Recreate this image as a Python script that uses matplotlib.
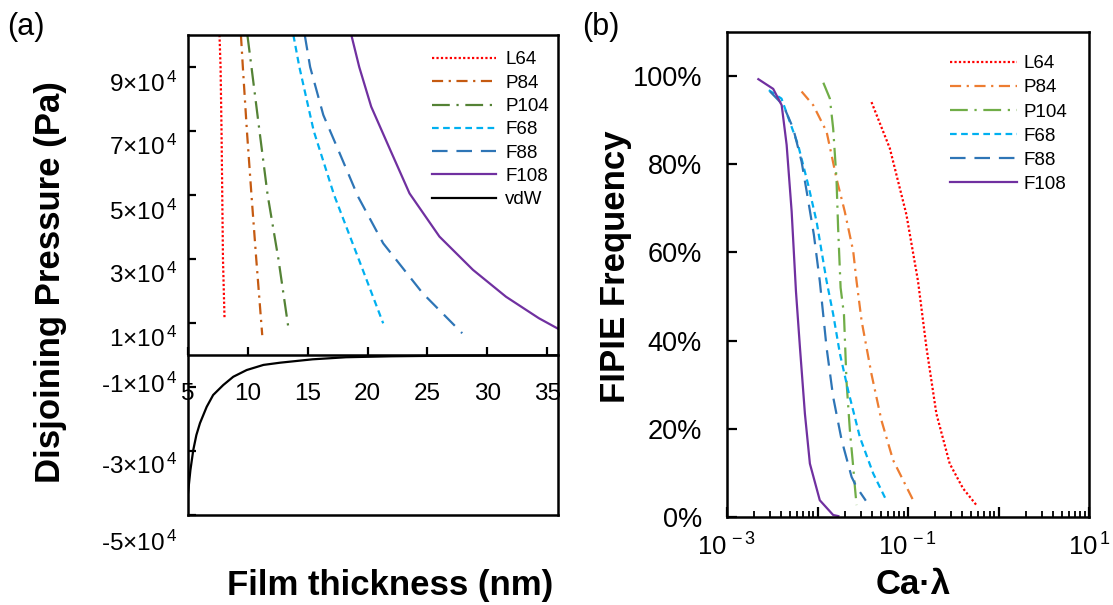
import numpy as np
import matplotlib
matplotlib.use("Agg")
import matplotlib.pyplot as plt
from matplotlib.ticker import PercentFormatter, FixedLocator, LogLocator, FuncFormatter
import matplotlib.transforms as mtransforms

plt.rcParams["font.family"] = ["Liberation Sans", "DejaVu Sans"]
plt.rcParams["mathtext.fontset"] = "custom"
plt.rcParams["mathtext.rm"] = "Liberation Sans"
plt.rcParams["mathtext.it"] = "Liberation Sans"
plt.rcParams["axes.unicode_minus"] = False

# ---- (a) disjoining pressure vs film thickness (nm, Pa) ----
l64_h = [7.63, 7.72, 7.80, 7.86, 7.92, 8.05]
l64_p = [1.0e5, 9.0e4, 7.0e4, 5.0e4, 3.0e4, 1.15e4]
p84_h = [9.42, 9.58, 9.92, 10.3, 10.7, 11.2]
p84_p = [1.0e5, 9.0e4, 7.0e4, 5.0e4, 3.0e4, 6.2e3]
p104_h = [9.96, 10.3, 10.97, 11.65, 12.55, 13.4]
p104_p = [1.0e5, 9.0e4, 7.0e4, 5.0e4, 3.0e4, 8.1e3]
f68_h = [13.8, 14.3, 15.5, 17.2, 19.25, 21.3]
f68_p = [1.0e5, 9.0e4, 7.0e4, 5.0e4, 3.0e4, 9.9e3]
f88_h = [14.75, 15.2, 16.3, 17.67, 19.2, 21.3, 24.6, 27.9]
f88_p = [1.0e5, 9.0e4, 7.5e4, 6.3e4, 4.95e4, 3.49e4, 1.93e4, 6.8e3]
f108_h = [18.64, 19.3, 20.3, 21.9, 23.5, 26.0, 28.8, 31.56, 34.3, 35.86]
f108_p = [1.0e5, 9.0e4, 7.76e4, 6.4e4, 5.05e4, 3.7e4, 2.66e4, 1.82e4, 1.15e4, 8.3e3]
vdw_h = [5.0, 5.2, 5.44, 5.7, 6.0, 6.56, 7.1, 7.94, 8.78, 9.9, 11.3, 12.7, 15.4, 18.2, 22.0, 27.0, 35.9]
vdw_p = [-4.32e4, -3.6e4, -2.97e4, -2.5e4, -2.13e4, -1.62e4, -1.25e4, -9.4e3, -6.8e3,
         -4.7e3, -3.1e3, -2.4e3, -1.35e3, -7.0e2, -4.0e2, -2.0e2, -1.0e2]
y_ticks_a = [9e4, 7e4, 5e4, 3e4, 1e4, -1e4, -3e4, -5e4]
y_labels_a = ["9", "7", "5", "3", "1", "-1", "-3", "-5"]
x_ticks_a = [5, 10, 15, 20, 25, 30, 35]

# ---- (b) FIPIE frequency vs Ca*lambda ----
b_l64_x = [3.95e-2, 6.3e-2, 9.6e-2, 0.129, 0.16, 0.206, 0.289, 0.405, 0.57]
b_l64_y = [94.1, 83.6, 68.6, 53.5, 38.4, 23.4, 12.1, 6.5, 2.7]
b_p84_x = [6.67e-3, 8.97e-3, 1.26e-2, 1.43e-2, 1.62e-2, 2.0e-2, 2.48e-2, 2.7e-2, 3.07e-2,
           3.95e-2, 5.09e-2, 6.84e-2, 0.114]
b_p84_y = [96.5, 93.4, 87.4, 82.1, 76.8, 69.3, 60.3, 53.5, 44.5, 32.4, 21.9, 12.9, 3.8]
b_p104_x = [1.16e-2, 1.37e-2, 1.49e-2, 1.62e-2, 1.69e-2, 1.8e-2, 1.96e-2, 2.09e-2, 2.28e-2,
            2.48e-2, 2.59e-2, 2.7e-2]
b_p104_y = [98.5, 94.9, 88.1, 76.8, 65.5, 52.0, 46.0, 30.9, 19.6, 11.4, 6.8, 2.7]
b_f68_x = [2.9e-3, 4.0e-3, 6.1e-3, 7.9e-3, 9.77e-3, 1.26e-2, 1.49e-2, 1.77e-2, 2.18e-2,
           2.94e-2, 4.12e-2, 5.69e-2]
b_f68_y = [96.8, 94.9, 84.4, 75.3, 67.0, 53.5, 46.0, 37.0, 28.7, 18.1, 9.9, 4.0]
b_f88_x = [2.99e-3, 4.18e-3, 5.4e-3, 6.67e-3, 7.7e-3, 9.12e-3, 1.06e-2, 1.26e-2, 1.49e-2,
           1.85e-2, 2.38e-2, 2.7e-2, 3.42e-2]
b_f88_y = [96.5, 93.4, 88.1, 80.6, 73.1, 64.0, 53.5, 38.4, 27.2, 17.4, 9.1, 6.8, 3.7]
b_f108_x = [2.22e-3, 3.24e-3, 4.02e-3, 4.56e-3, 5.18e-3, 5.78e-3, 6.4e-3, 7.26e-3, 8.24e-3,
            1.06e-2, 1.49e-2, 1.7e-2]
b_f108_y = [99.3, 97.1, 93.4, 84.4, 69.3, 51.2, 38.4, 23.4, 12.1, 3.8, 0.45, 0.2]

# styles
DOT = (0, (1, 1))
DASHDOT = (0, (5, 2.5, 1, 2.5))
LONGDASHDOT = (0, (8, 3, 1, 3))
SHORTDASH = (0, (3, 2))
LONGDASH = (0, (7, 4))
LW = 1.6

W, H = 1113, 605
fig = plt.figure(figsize=(W / 100, H / 100), dpi=100)


def px_axes(l, t, r, b):
    return fig.add_axes([l / W, 1 - b / H, (r - l) / W, (b - t) / H])


# ================= panel (a) =================
ax1 = px_axes(188, 35, 558, 515)
ax1.plot(l64_h, l64_p, color="#FF0000", ls=DOT, lw=LW, label="L64")
ax1.plot(p84_h, p84_p, color="#C55A11", ls=DASHDOT, lw=LW, label="P84")
ax1.plot(p104_h, p104_p, color="#548235", ls=LONGDASHDOT, lw=LW, label="P104")
ax1.plot(f68_h, f68_p, color="#00B0F0", ls=SHORTDASH, lw=LW, label="F68")
ax1.plot(f88_h, f88_p, color="#2E75B6", ls=LONGDASH, lw=LW, label="F88")
ax1.plot(f108_h, f108_p, color="#7030A0", ls="-", lw=LW, label="F108")
ax1.plot(vdw_h, vdw_p, color="black", ls="-", lw=LW, label="vdW")

ax1.set_xlim(5, 35.9)
ax1.set_ylim(-5e4, 1e5)
ax1.spines["bottom"].set_position(("data", 0))
for s in ax1.spines.values():
    s.set_linewidth(1.8)
# frame line at the bottom of the box
ax1.plot([0, 1], [0, 0], transform=ax1.transAxes, color="black", lw=1.8, clip_on=False)

ax1.set_xticks(x_ticks_a)
ax1.set_yticks(y_ticks_a)
ax1.set_yticklabels(["%s\u00d710$^{\\,4}$" % s for s in y_labels_a])
ax1.tick_params(axis="both", direction="in", length=6, width=1.6, labelsize=17.5)
ax1.tick_params(axis="x", pad=20)
ax1.tick_params(axis="y", pad=8)
# the labels sit a little below their ticks in the original
shift_px = [14.5, 14, 14.5, 13.5, 14, -4, 13, 26]
for lab, d in zip(ax1.get_yticklabels(), shift_px):
    off = mtransforms.ScaledTranslation(0, -d / 100, fig.dpi_scale_trans)
    lab.set_transform(lab.get_transform() + off)

ax1.legend(loc="upper left", bbox_to_anchor=(0.66, 0.966), frameon=False, fontsize=13.5,
           handlelength=3.4, handletextpad=0.5, labelspacing=0.33, borderpad=0,
           borderaxespad=0)

# ================= panel (b) =================
ax2 = px_axes(727, 32, 1089, 517)
ax2.plot(b_l64_x, np.array(b_l64_y) / 100, color="#FF0000", ls=DOT, lw=LW, label="L64")
ax2.plot(b_p84_x, np.array(b_p84_y) / 100, color="#ED7D31", ls=DASHDOT, lw=LW, label="P84")
ax2.plot(b_p104_x, np.array(b_p104_y) / 100, color="#70AD47", ls=LONGDASHDOT, lw=LW, label="P104")
ax2.plot(b_f68_x, np.array(b_f68_y) / 100, color="#00B0F0", ls=SHORTDASH, lw=LW, label="F68")
ax2.plot(b_f88_x, np.array(b_f88_y) / 100, color="#2E75B6", ls=LONGDASH, lw=LW, label="F88")
ax2.plot(b_f108_x, np.array(b_f108_y) / 100, color="#7030A0", ls="-", lw=LW, label="F108")

ax2.set_xscale("log")
ax2.set_xlim(1e-3, 1e1)
ax2.set_ylim(0, 1.1)
for s in ax2.spines.values():
    s.set_linewidth(1.8)
ax2.set_yticks([0, 0.2, 0.4, 0.6, 0.8, 1.0])
ax2.yaxis.set_major_formatter(PercentFormatter(1.0, decimals=0))
ax2.xaxis.set_major_locator(FixedLocator([1e-3, 1e-2, 1e-1, 1, 10]))
ax2.xaxis.set_minor_locator(LogLocator(base=10, subs=np.arange(2, 10), numticks=20))
ax2.xaxis.set_minor_formatter(FuncFormatter(lambda v, p: ""))


def fmt_b(v, pos):
    e = int(round(np.log10(v)))
    return "10$^{\\,%d}$" % e if e % 2 else ""


ax2.xaxis.set_major_formatter(FuncFormatter(fmt_b))
ax2.tick_params(axis="both", which="major", direction="in", length=7, width=1.6)
ax2.tick_params(axis="x", which="minor", direction="in", length=4.5, width=1.3)
ax2.tick_params(axis="x", which="major", labelsize=18.5, pad=12)
ax2.tick_params(axis="y", labelsize=19.5, pad=18)

ax2.legend(loc="upper left", bbox_to_anchor=(0.615, 0.952), frameon=False, fontsize=13.5,
           handlelength=3.6, handletextpad=0.35, labelspacing=0.37, borderpad=0,
           borderaxespad=0)

# ---- labels ----
fig.text(51 / W, 1 - 282 / H, "Disjoining Pressure (Pa)", rotation=90, ha="center",
         va="center", fontsize=25, fontweight="bold")
fig.text(390 / W, 1 - 585 / H, "Film thickness (nm)", ha="center", va="center",
         fontsize=25, fontweight="bold")
fig.text(615 / W, 1 - 267 / H, "FIPIE Frequency", rotation=90, ha="center",
         va="center", fontsize=25, fontweight="bold")
fig.text(913 / W, 1 - 585 / H, "Ca\u00b7\u03bb", ha="center", va="center",
         fontsize=25, fontweight="bold")
fig.text(7 / W, 1 - 27 / H, "(a)", ha="left", va="center", fontsize=22)
fig.text(582 / W, 1 - 27 / H, "(b)", ha="left", va="center", fontsize=22)

fig.savefig("out.png", dpi=100, facecolor="white")
